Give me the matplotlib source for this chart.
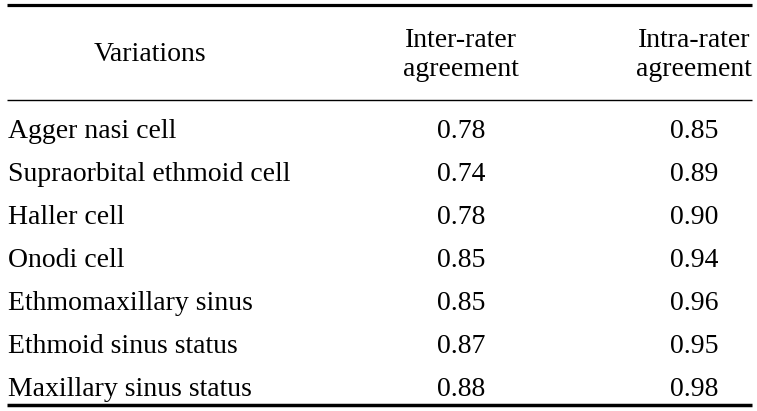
import matplotlib.pyplot as plt

variations = ["Agger nasi cell", "Supraorbital ethmoid cell", "Haller cell", "Onodi cell",
              "Ethmomaxillary sinus", "Ethmoid sinus status", "Maxillary sinus status"]
inter_rater = [0.78, 0.74, 0.78, 0.85, 0.85, 0.87, 0.88]
intra_rater = [0.85, 0.89, 0.90, 0.94, 0.96, 0.95, 0.98]
headers = [["Variations"], ["Inter-rater", "agreement"], ["Intra-rater", "agreement"]]

plt.rcParams['font.family'] = ['Liberation Serif', 'DejaVu Serif']

fig = plt.figure(figsize=(7.57, 4.11), dpi=100)
ax = fig.add_axes([0, 0, 1, 1])
ax.set_xlim(0, 757)
ax.set_ylim(411, 0)
ax.axis('off')

fs = 20
col_x = [150, 461, 694]

# rules
ax.plot([7, 752], [5.5, 5.5], color='black', lw=2.3, solid_capstyle='butt')
ax.plot([7, 752], [100, 100], color='black', lw=1.0, solid_capstyle='butt')
ax.plot([7, 752], [405, 405], color='black', lw=2.5, solid_capstyle='butt')

# header
ax.text(col_x[0], 61, headers[0][0], ha='center', va='baseline', fontsize=fs)
for x, h in zip(col_x[1:], headers[1:]):
    ax.text(x, 47, h[0], ha='center', va='baseline', fontsize=fs)
    ax.text(x, 76, h[1], ha='center', va='baseline', fontsize=fs)

# body
row_y0, row_dy = 137.5, 43.0
for i, (name, a, b) in enumerate(zip(variations, inter_rater, intra_rater)):
    y = row_y0 + i * row_dy
    ax.text(8, y, name, ha='left', va='baseline', fontsize=fs)
    ax.text(col_x[1], y, f"{a:.2f}", ha='center', va='baseline', fontsize=fs)
    ax.text(col_x[2], y, f"{b:.2f}", ha='center', va='baseline', fontsize=fs)

fig.savefig('out.png', dpi=100)
